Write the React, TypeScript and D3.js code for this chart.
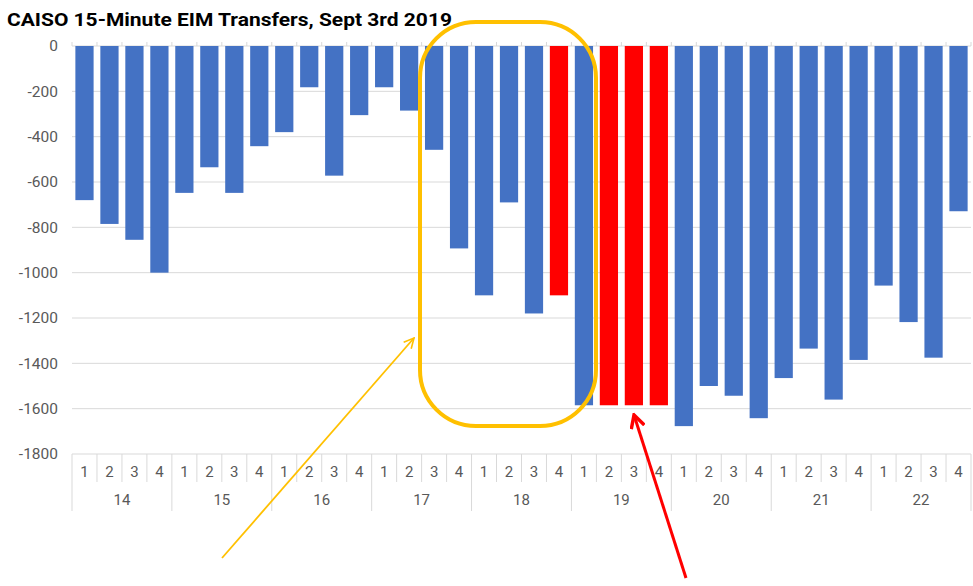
import React from 'react';
import * as d3 from 'd3';

// hour ending labels and 15-minute interval labels
const hours = ['14', '15', '16', '17', '18', '19', '20', '21', '22'];
const quarters = ['1', '2', '3', '4'];

// net EIM transfer (MW) for each 15-minute interval
const transfers = [
  -680, -785, -855, -1000,
  -648, -535, -648, -442,
  -380, -182, -572, -305,
  -182, -285, -458, -893,
  -1100, -690, -1180, -1100,
  -1585, -1585, -1585, -1585,
  -1677, -1500, -1543, -1642,
  -1465, -1335, -1560, -1385,
  -1057, -1218, -1375, -729,
];

// intervals drawn in red
const highlighted = [19, 21, 22, 23];

const yTicks = [0, -200, -400, -600, -800, -1000, -1200, -1400, -1600, -1800];

const W = 973;
const H = 586;
const left = 72;
const right = 971;
const top = 46;
const bottom = 454;
const font = 'Roboto, "Open Sans", sans-serif';

const App: React.FC = () => {
  const x = d3.scaleBand<number>()
    .domain(d3.range(transfers.length))
    .range([left, right])
    .paddingInner(0.27)
    .paddingOuter(0.135);

  const y = d3.scaleLinear().domain([0, -1800]).range([top, bottom]);
  const step = x.step();
  const edge = (i: number) => left + i * step;

  return (
    <svg width={W} height={H} style={{ position: 'absolute', left: 0, top: 0, background: '#fff' }}>
      <text x={7} y={26} fontFamily={font} fontWeight={700} fontSize={17.5} fill="#000" textLength={445} lengthAdjust="spacingAndGlyphs">
        CAISO 15-Minute EIM Transfers, Sept 3rd 2019
      </text>

      {/* gridlines and y labels */}
      {yTicks.map((t) => (
        <g key={t}>
          <line x1={left} x2={right} y1={y(t)} y2={y(t)} stroke="#d9d9d9" strokeWidth={1} />
          <text x={58} y={y(t)} dy="0.35em" textAnchor="end" fontFamily={font} fontSize={15.5} fill="#595959">
            {t}
          </text>
        </g>
      ))}

      {/* small tick marks above zero line */}
      {d3.range(transfers.length + 1).map((i) => (
        <line key={'t' + i} x1={edge(i)} x2={edge(i)} y1={top - 4} y2={top} stroke="#d9d9d9" />
      ))}

      {/* bars */}
      {transfers.map((v, i) => (
        <rect
          key={i}
          x={x(i)}
          y={y(0)}
          width={x.bandwidth()}
          height={y(v) - y(0)}
          fill={highlighted.includes(i) ? '#ff0000' : '#4472c4'}
        />
      ))}

      {/* multi-level category axis */}
      {d3.range(transfers.length + 1).map((i) => (
        <line
          key={'c' + i}
          x1={edge(i)}
          x2={edge(i)}
          y1={bottom}
          y2={i % 4 === 0 ? 511 : 482}
          stroke="#d9d9d9"
        />
      ))}
      {transfers.map((_, i) => (
        <text key={'q' + i} x={(x(i) as number) + x.bandwidth() / 2} y={472} dy="0.35em" textAnchor="middle" fontFamily={font} fontSize={15} fill="#595959">
          {quarters[i % 4]}
        </text>
      ))}
      {hours.map((h, j) => (
        <text key={h} x={edge(j * 4) + step * 2} y={500} dy="0.35em" textAnchor="middle" fontFamily={font} fontSize={15} fill="#595959">
          {h}
        </text>
      ))}

      {/* annotations */}
      <defs>
        <marker id="arrY" viewBox="0 0 12 12" refX="11" refY="6" markerWidth="12" markerHeight="12" markerUnits="userSpaceOnUse" orient="auto">
          <path d="M1,1 L11,6 L1,11" fill="none" stroke="#ffc000" strokeWidth={1.6} />
        </marker>
        <marker id="arrR" viewBox="0 0 14 14" refX="12" refY="7" markerWidth="16" markerHeight="16" markerUnits="userSpaceOnUse" orient="auto">
          <path d="M1,1 L12,7 L1,13" fill="none" stroke="#ff0000" strokeWidth={3} />
        </marker>
      </defs>
      <rect x={420} y={22} width={176} height={404} rx={56} ry={56} fill="none" stroke="#ffc000" strokeWidth={4} />
      <line x1={222} y1={558} x2={414} y2={338} stroke="#ffc000" strokeWidth={1.8} markerEnd="url(#arrY)" />
      <line x1={686} y1={578} x2={634} y2={415} stroke="#ff0000" strokeWidth={3} markerEnd="url(#arrR)" />
    </svg>
  );
};

export default App;
